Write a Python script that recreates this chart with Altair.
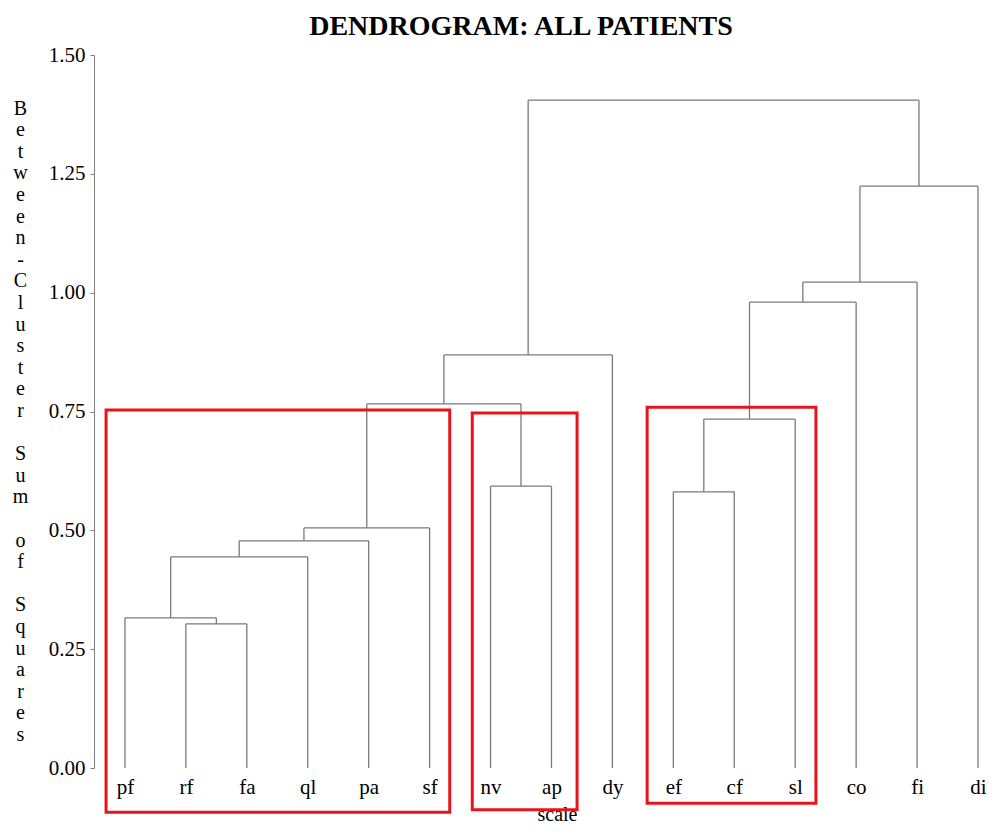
import altair as alt
import pandas as pd

# ---- data ----
leaves = ["pf", "rf", "fa", "ql", "pa", "sf", "nv", "ap", "dy", "ef", "cf", "sl", "co", "fi", "di"]
merge_ids = ["m1", "m2", "m3", "m4", "m5", "m6", "m7", "m8", "m9", "m10", "m11", "m12", "m13", "m14"]
merge_left = ["rf", "pf", "m2", "m3", "m4", "nv", "m5", "m7", "ef", "m9", "m10", "m11", "m12", "m8"]
merge_right = ["fa", "m1", "ql", "pa", "sf", "ap", "m6", "dy", "cf", "sl", "co", "fi", "di", "m13"]
merge_height = [0.303, 0.316, 0.444, 0.478, 0.505, 0.593, 0.766, 0.869, 0.581, 0.734, 0.980, 1.022, 1.224, 1.405]

# highlighted cluster boxes (data coordinates: leaf index, sum of squares)
box_x1 = [-0.31, 5.70, 8.57]
box_x2 = [5.33, 7.42, 11.34]
box_y1 = [-0.093, -0.088, -0.074]
box_y2 = [0.753, 0.747, 0.759]

y_ticks = [0.0, 0.25, 0.5, 0.75, 1.0, 1.25, 1.5]
gap = "\u2800"
y_title = list("Between-Cluster") + [gap] + list("Sum") + [gap] + list("of") + [gap] + list("Squares")

# ---- build dendrogram segments ----
pos = {name: float(i) for i, name in enumerate(leaves)}
hgt = {name: 0.0 for name in leaves}
rows = []
for mid, l, r, h in zip(merge_ids, merge_left, merge_right, merge_height):
    xl, xr = pos[l], pos[r]
    rows.append({"x": xl, "x2": xl, "y": hgt[l], "y2": h})
    rows.append({"x": xl, "x2": xr, "y": h, "y2": h})
    rows.append({"x": xr, "x2": xr, "y": hgt[r], "y2": h})
    pos[mid] = (xl + xr) / 2
    hgt[mid] = h
seg_df = pd.DataFrame(rows)
box_df = pd.DataFrame({"x1": box_x1, "x2": box_x2, "y1": box_y1, "y2": box_y2})

serif = "Liberation Serif"
label_expr = "[" + ",".join("'%s'" % s for s in leaves) + "][datum.value]"

xscale = alt.Scale(domain=[-0.508, 14.0], nice=False, zero=False)
yscale = alt.Scale(domain=[0, 1.5], nice=False, zero=False)

xaxis = alt.Axis(
    values=list(range(len(leaves))), labelExpr=label_expr, title="scale",
    domain=False, ticks=False, tickSize=0, grid=False,
    labelFont=serif, labelFontSize=21, labelColor="black", labelPadding=8,
    labelFlush=False, labelOverlap=False,
    titleFont=serif, titleFontSize=20, titleFontWeight="normal", titleColor="black",
    titlePadding=7, titleX=463, titleAlign="center",
)
yaxis = alt.Axis(
    values=y_ticks, format=".2f", title=y_title, grid=False,
    domainColor="#808080", tickColor="#808080", tickSize=4,
    labelFont=serif, labelFontSize=21, labelColor="black", labelPadding=5,
    labelFlush=False,
    titleFont=serif, titleFontSize=20, titleFontWeight="normal", titleColor="black",
    titleAngle=0, titleX=-74, titleY=53, titleAlign="center", titleBaseline="middle",
    titleLineHeight=21.6,
)

lines = alt.Chart(seg_df).mark_rule(color="#7a7a7a", strokeWidth=1.3).encode(
    x=alt.X("x:Q", scale=xscale, axis=xaxis),
    x2="x2:Q",
    y=alt.Y("y:Q", scale=yscale, axis=yaxis),
    y2="y2:Q",
)

boxes = alt.Chart(box_df).mark_rect(
    fillOpacity=0, stroke="#e8141c", strokeWidth=3, clip=False
).encode(
    x=alt.X("x1:Q", scale=xscale),
    x2="x2:Q",
    y=alt.Y("y1:Q", scale=yscale),
    y2="y2:Q",
)

chart = alt.layer(lines, boxes).properties(
    width=884, height=713,
    title=alt.TitleParams(
        "DENDROGRAM: ALL PATIENTS", font=serif, fontSize=28, fontWeight="bold",
        color="black", offset=3, frame="group", anchor="middle", dx=-15,
    ),
    padding={"left": 4, "top": 5, "right": 0, "bottom": 0},
    background="white",
).configure_view(stroke=None, strokeWidth=0)

chart.save("out.html", embed_options={"renderer": "svg", "actions": False})
